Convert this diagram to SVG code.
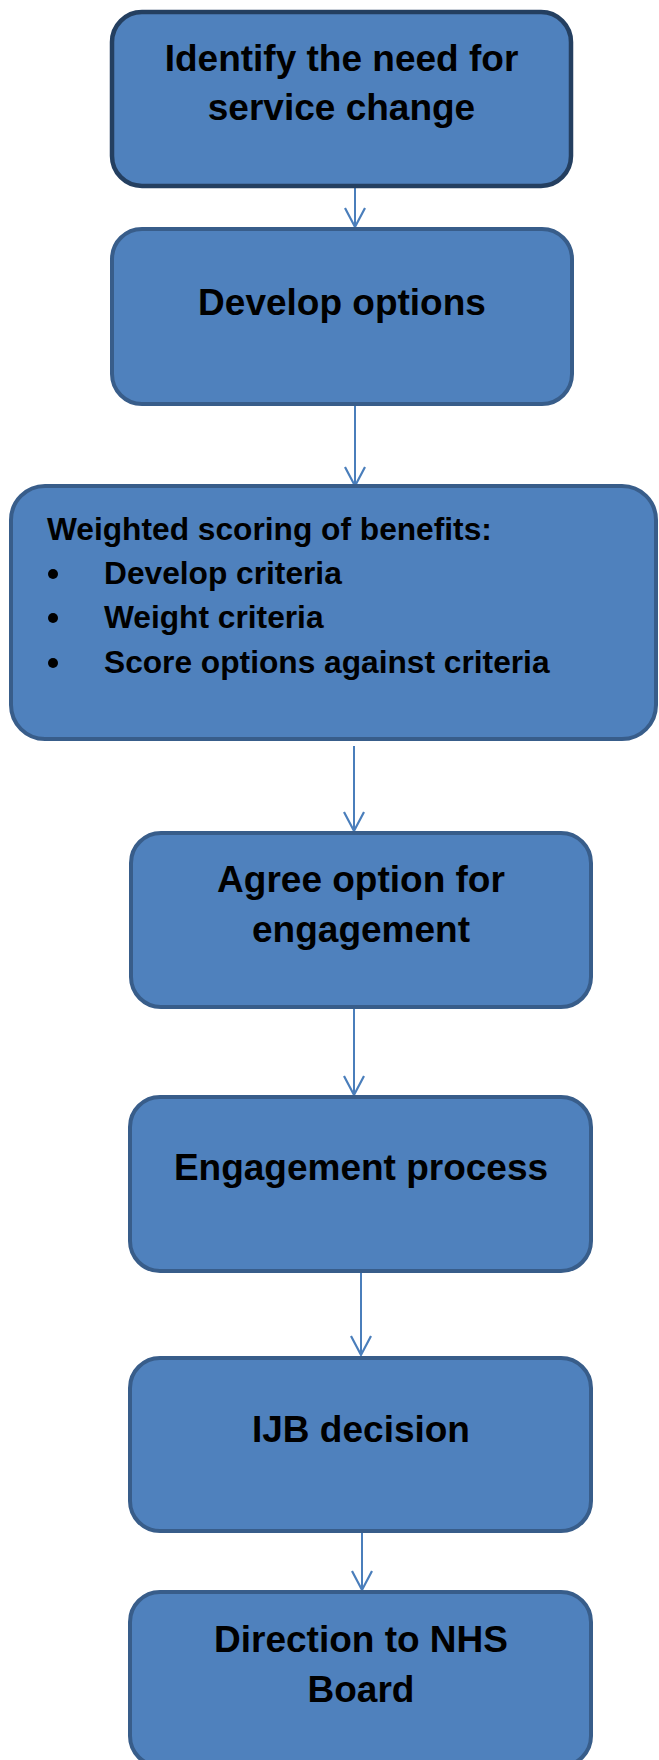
<svg xmlns="http://www.w3.org/2000/svg" width="659" height="1760" viewBox="0 0 659 1760">
  <style>
    .box { fill: #4F81BD; stroke: #385D8A; stroke-width: 4; }
    .box-dark { fill: #4F81BD; stroke: #243F60; stroke-width: 4.5; }
    .label { font-family: "Liberation Sans", Arial, sans-serif; font-weight: bold; font-size: 37px; fill: #000; text-anchor: middle; }
    .list { font-family: "Liberation Sans", Arial, sans-serif; font-weight: bold; font-size: 31.7px; fill: #000; }
    .bullet { fill: #000; }
    .link { stroke: #4A7EBB; stroke-width: 2; fill: none; }
    .head { stroke: #4A7EBB; stroke-width: 2.2; fill: none; stroke-linejoin: miter; }
  </style>
  <rect width="659" height="1760" fill="#FFFFFF"/>

  <!-- connectors -->
  <g id="connectors">
    <line class="link" x1="355" y1="188" x2="355" y2="227"/>
    <polyline class="head" points="345,208 355,227 365,208"/>

    <line class="link" x1="355" y1="406" x2="355" y2="486"/>
    <polyline class="head" points="345,467 355,486 365,467"/>

    <line class="link" x1="354" y1="746" x2="354" y2="831"/>
    <polyline class="head" points="344,812 354,831 364,812"/>

    <line class="link" x1="354" y1="1009" x2="354" y2="1095"/>
    <polyline class="head" points="344,1076 354,1095 364,1076"/>

    <line class="link" x1="361" y1="1273" x2="361" y2="1355"/>
    <polyline class="head" points="351,1336 361,1355 371,1336"/>

    <line class="link" x1="362" y1="1533" x2="362" y2="1590"/>
    <polyline class="head" points="352,1571 362,1590 372,1571"/>
  </g>

  <g id="identify-need">
    <rect class="box-dark" x="112" y="12" width="459" height="174" rx="30" ry="30"/>
    <text class="label" x="341.5" y="71">Identify the need for</text>
    <text class="label" x="341.5" y="120">service change</text>
  </g>

  <g id="develop-options">
    <rect class="box" x="112" y="229" width="460" height="175" rx="30" ry="30"/>
    <text class="label" x="342" y="315">Develop options</text>
  </g>

  <g id="weighted-scoring">
    <rect class="box" x="11" y="486" width="645" height="253" rx="34" ry="34"/>
    <text class="list" x="47" y="540">Weighted scoring of benefits:</text>
    <circle class="bullet" cx="53" cy="574" r="5"/>
    <text class="list" x="104" y="584">Develop criteria</text>
    <circle class="bullet" cx="53" cy="618" r="5"/>
    <text class="list" x="104" y="628">Weight criteria</text>
    <circle class="bullet" cx="53" cy="663" r="5"/>
    <text class="list" x="104" y="673">Score options against criteria</text>
  </g>

  <g id="agree-option">
    <rect class="box" x="131" y="833" width="460" height="174" rx="30" ry="30"/>
    <text class="label" x="361" y="892">Agree option for</text>
    <text class="label" x="361" y="942">engagement</text>
  </g>

  <g id="engagement-process">
    <rect class="box" x="130" y="1097" width="461" height="174" rx="30" ry="30"/>
    <text class="label" x="361" y="1180">Engagement process</text>
  </g>

  <g id="ijb-decision">
    <rect class="box" x="130" y="1358" width="461" height="173" rx="30" ry="30"/>
    <text class="label" x="361" y="1442">IJB decision</text>
  </g>

  <g id="direction-nhs">
    <rect class="box" x="130" y="1592" width="461" height="174" rx="30" ry="30"/>
    <text class="label" x="361" y="1652">Direction to NHS</text>
    <text class="label" x="361" y="1702">Board</text>
  </g>
</svg>
